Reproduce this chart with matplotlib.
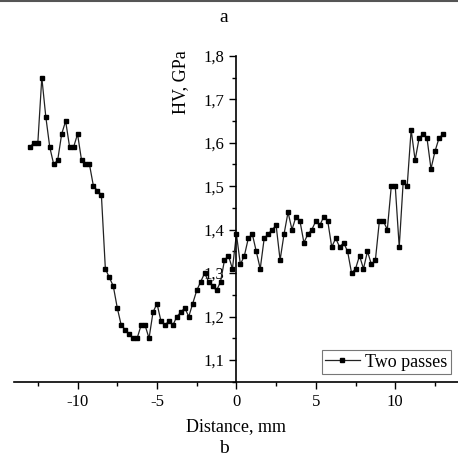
import matplotlib.pyplot as plt
import numpy as np
from matplotlib.ticker import MultipleLocator, FuncFormatter

plt.rcParams['font.family'] = ['Liberation Serif', 'DejaVu Serif']

# hardness profile, step 0.25 mm
distance = np.arange(-13.0, 13.01, 0.25)
hv = [1.59, 1.60, 1.60, 1.75, 1.66, 1.59, 1.55, 1.56, 1.62, 1.65,
      1.59, 1.59, 1.62, 1.56, 1.55, 1.55, 1.50, 1.49, 1.48, 1.31,
      1.29, 1.27, 1.22, 1.18, 1.17, 1.16, 1.15, 1.15, 1.18, 1.18,
      1.15, 1.21, 1.23, 1.19, 1.18, 1.19, 1.18, 1.20, 1.21, 1.22,
      1.20, 1.23, 1.26, 1.28, 1.30, 1.28, 1.27, 1.26, 1.28, 1.33,
      1.34, 1.31, 1.39, 1.32, 1.34, 1.38, 1.39, 1.35, 1.31, 1.38,
      1.39, 1.40, 1.41, 1.33, 1.39, 1.44, 1.40, 1.43, 1.42, 1.37,
      1.39, 1.40, 1.42, 1.41, 1.43, 1.42, 1.36, 1.38, 1.36, 1.37,
      1.35, 1.30, 1.31, 1.34, 1.31, 1.35, 1.32, 1.33, 1.42, 1.42,
      1.40, 1.50, 1.50, 1.36, 1.51, 1.50, 1.63, 1.56, 1.61, 1.62,
      1.61, 1.54, 1.58, 1.61, 1.62]

fig = plt.figure(figsize=(4.58, 4.69), dpi=100)
ax = fig.add_axes([0.0306, 0.186, 0.9694, 0.695])

ax.plot(distance, hv, color='#222222', lw=0.9, marker='s', ms=3.2,
        mfc='black', mec='black', label='Two passes')

ax.set_xlim(-14, 13.95)
ax.set_ylim(1.05, 1.8)

ax.spines['left'].set_position(('data', 0))
ax.spines['right'].set_visible(False)
ax.spines['top'].set_visible(False)
ax.spines['left'].set_linewidth(1.2)
ax.spines['bottom'].set_linewidth(1.2)

ax.xaxis.set_major_locator(MultipleLocator(5))
ax.xaxis.set_minor_locator(MultipleLocator(2.5))
ax.yaxis.set_minor_locator(MultipleLocator(0.05))
ax.set_yticks([1.1, 1.2, 1.3, 1.4, 1.5, 1.6, 1.7, 1.8])
ax.yaxis.set_major_formatter(FuncFormatter(lambda v, p: f'{v:.1f}'.replace('.', ',')))
ax.xaxis.set_major_formatter(FuncFormatter(lambda v, p: f'{v:g}'))
ax.tick_params(which='major', direction='out', length=5, width=1, labelsize=12)
ax.tick_params(which='minor', direction='out', length=3, width=1)

ax.set_xlabel('Distance, mm', fontsize=13, labelpad=6)
ax.text(-3.5, 1.74, 'HV, GPa', rotation=90, fontsize=13, ha='center', va='center')

leg = ax.legend(loc='upper left', bbox_to_anchor=(0.693, 0.097), fontsize=13,
                fancybox=False, edgecolor='#777777', borderpad=0.2,
                handlelength=1.9, handletextpad=0.3, borderaxespad=0,
                framealpha=1)
leg.get_frame().set_linewidth(0.8)

fig.text(0.489, 0.963, 'a', fontsize=14, ha='center', va='center')
fig.text(0.489, 0.043, 'b', fontsize=14, ha='center', va='center')
fig.add_artist(plt.Line2D([0, 1], [0.998, 0.998], color='#555555', lw=1.5))

fig.savefig('out.png', dpi=100)
